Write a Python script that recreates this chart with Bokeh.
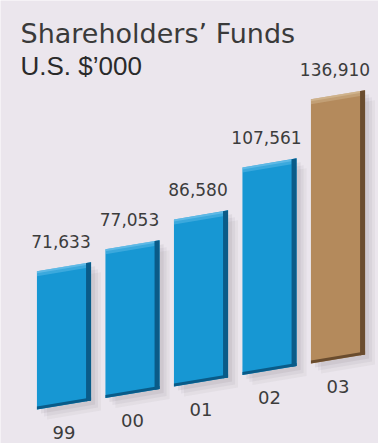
from bokeh.plotting import figure
from bokeh.models import Range1d, Label
from bokeh.core.properties import value
from bokeh.embed import file_html
from bokeh.resources import INLINE

years = ["99", "00", "01", "02", "03"]
funds = [71633, 77053, 86580, 107561, 136910]
face_colors = ["#1797d3", "#1797d3", "#1797d3", "#1797d3", "#b48a5c"]
side_colors = ["#0a5b88", "#0a5b88", "#0a5b88", "#0a5b88", "#6a4c2e"]
top_colors = ["#7fcaf0", "#7fcaf0", "#7fcaf0", "#7fcaf0", "#dcc6a2"]
title1 = "Shareholders’ Funds"
title2 = "U.S. $’000"

W, H = 378, 443
X0, X1 = -0.927, 4.591
PX = (X1 - X0) / W          # data units per pixel (x)
YSPAN = 229.5
PY = YSPAN / H              # data units per pixel (y), values in thousands

p = figure(width=W, height=H, x_range=Range1d(X0, X1), y_range=Range1d(0, YSPAN),
           output_backend="svg", toolbar_location=None, min_border=0,
           x_axis_location=None, y_axis_location=None)
p.grid.visible = False
p.outline_line_color = None
p.background_fill_color = "#ebe6ed"
p.border_fill_color = "#ebe6ed"

B0 = 38.5 * PY
SLOPE = 11.5 * PY
HALF = 0.395


def base(x):
    return B0 + SLOPE * x


def quad(xa, xb, ya0, yb0, ha, hb):
    return [xa, xb, xb, xa], [ya0, yb0, yb0 + hb, ya0 + ha]


# shadows
for k, a in [(10, 0.05), (7, 0.06), (4, 0.08)]:
    sx, sy = [], []
    for i, v in enumerate(funds):
        h = v / 1000
        xl, xr = i - HALF + k * PX, i + HALF + k * PX
        bl, br = base(i - HALF) - k * PY, base(i + HALF) - k * PY
        xs, ys = quad(xl, xr, bl, br, h, h)
        sx.append(xs)
        sy.append(ys)
    p.patches(sx, sy, fill_color="#4a4550", fill_alpha=a, line_color=None)

fx, fy, dx, dy, tx, ty, t2x, t2y, bx, by = [], [], [], [], [], [], [], [], [], []
for i, v in enumerate(funds):
    h = v / 1000
    xl, xr = i - HALF, i + HALF
    xs_ = xr - 5 * PX
    xs, ys = quad(xl, xr, base(xl), base(xr), h, h)
    fx.append(xs); fy.append(ys)
    xs, ys = quad(xs_, xr, base(xs_), base(xr), h, h)
    dx.append(xs); dy.append(ys)
    xs, ys = quad(xl, xs_, base(xl) + h - 5 * PY, base(xs_) + h - 5 * PY, 5 * PY, 5 * PY)
    tx.append(xs); ty.append(ys)
    xs, ys = quad(xl, xs_, base(xl) + h - 2 * PY, base(xs_) + h - 2 * PY, 2 * PY, 2 * PY)
    t2x.append(xs); t2y.append(ys)
    xs, ys = quad(xl, xr, base(xl), base(xr), 3 * PY, 3 * PY)
    bx.append(xs); by.append(ys)

p.patches(fx, fy, fill_color=face_colors, line_color=None)
p.patches(tx, ty, fill_color=top_colors, fill_alpha=0.35, line_color=None)
p.patches(t2x, t2y, fill_color=top_colors, fill_alpha=0.5, line_color=None)
p.patches(bx, by, fill_color=side_colors, line_color=None)
p.patches(dx, dy, fill_color=side_colors, line_color=None)

lx = [i - 3 * PX for i in range(len(funds))]
ly = [base(i) + v / 1000 + 25 * PY for i, v in enumerate(funds)]
p.text(x=lx, y=ly, text=[f"{v:,}" for v in funds], text_align="center",
       text_baseline="middle", text_font=value("DejaVu Sans"),
       text_font_size="17px", text_color="#3c3c3c")

cx = list(range(len(years)))
cy = [base(i) - 27 * PY for i in cx]
p.text(x=cx, y=cy, text=years, text_align="center", text_baseline="middle",
       text_font=value("DejaVu Sans"), text_font_size="18px", text_color="#3c3c3c")

p.add_layout(Label(x=X0 + 20 * PX, y=(H - 33) * PY, text=title1,
                   text_font="DejaVu Sans", text_font_size="27px",
                   text_baseline="alphabetic", text_color="#3a3a3a"))
p.add_layout(Label(x=X0 + 20 * PX, y=(H - 65) * PY, text=title2,
                   text_font="Liberation Sans", text_font_size="26px",
                   text_baseline="alphabetic", text_color="#2a2a2a"))

open("out.html", "w").write(file_html(p, INLINE))
